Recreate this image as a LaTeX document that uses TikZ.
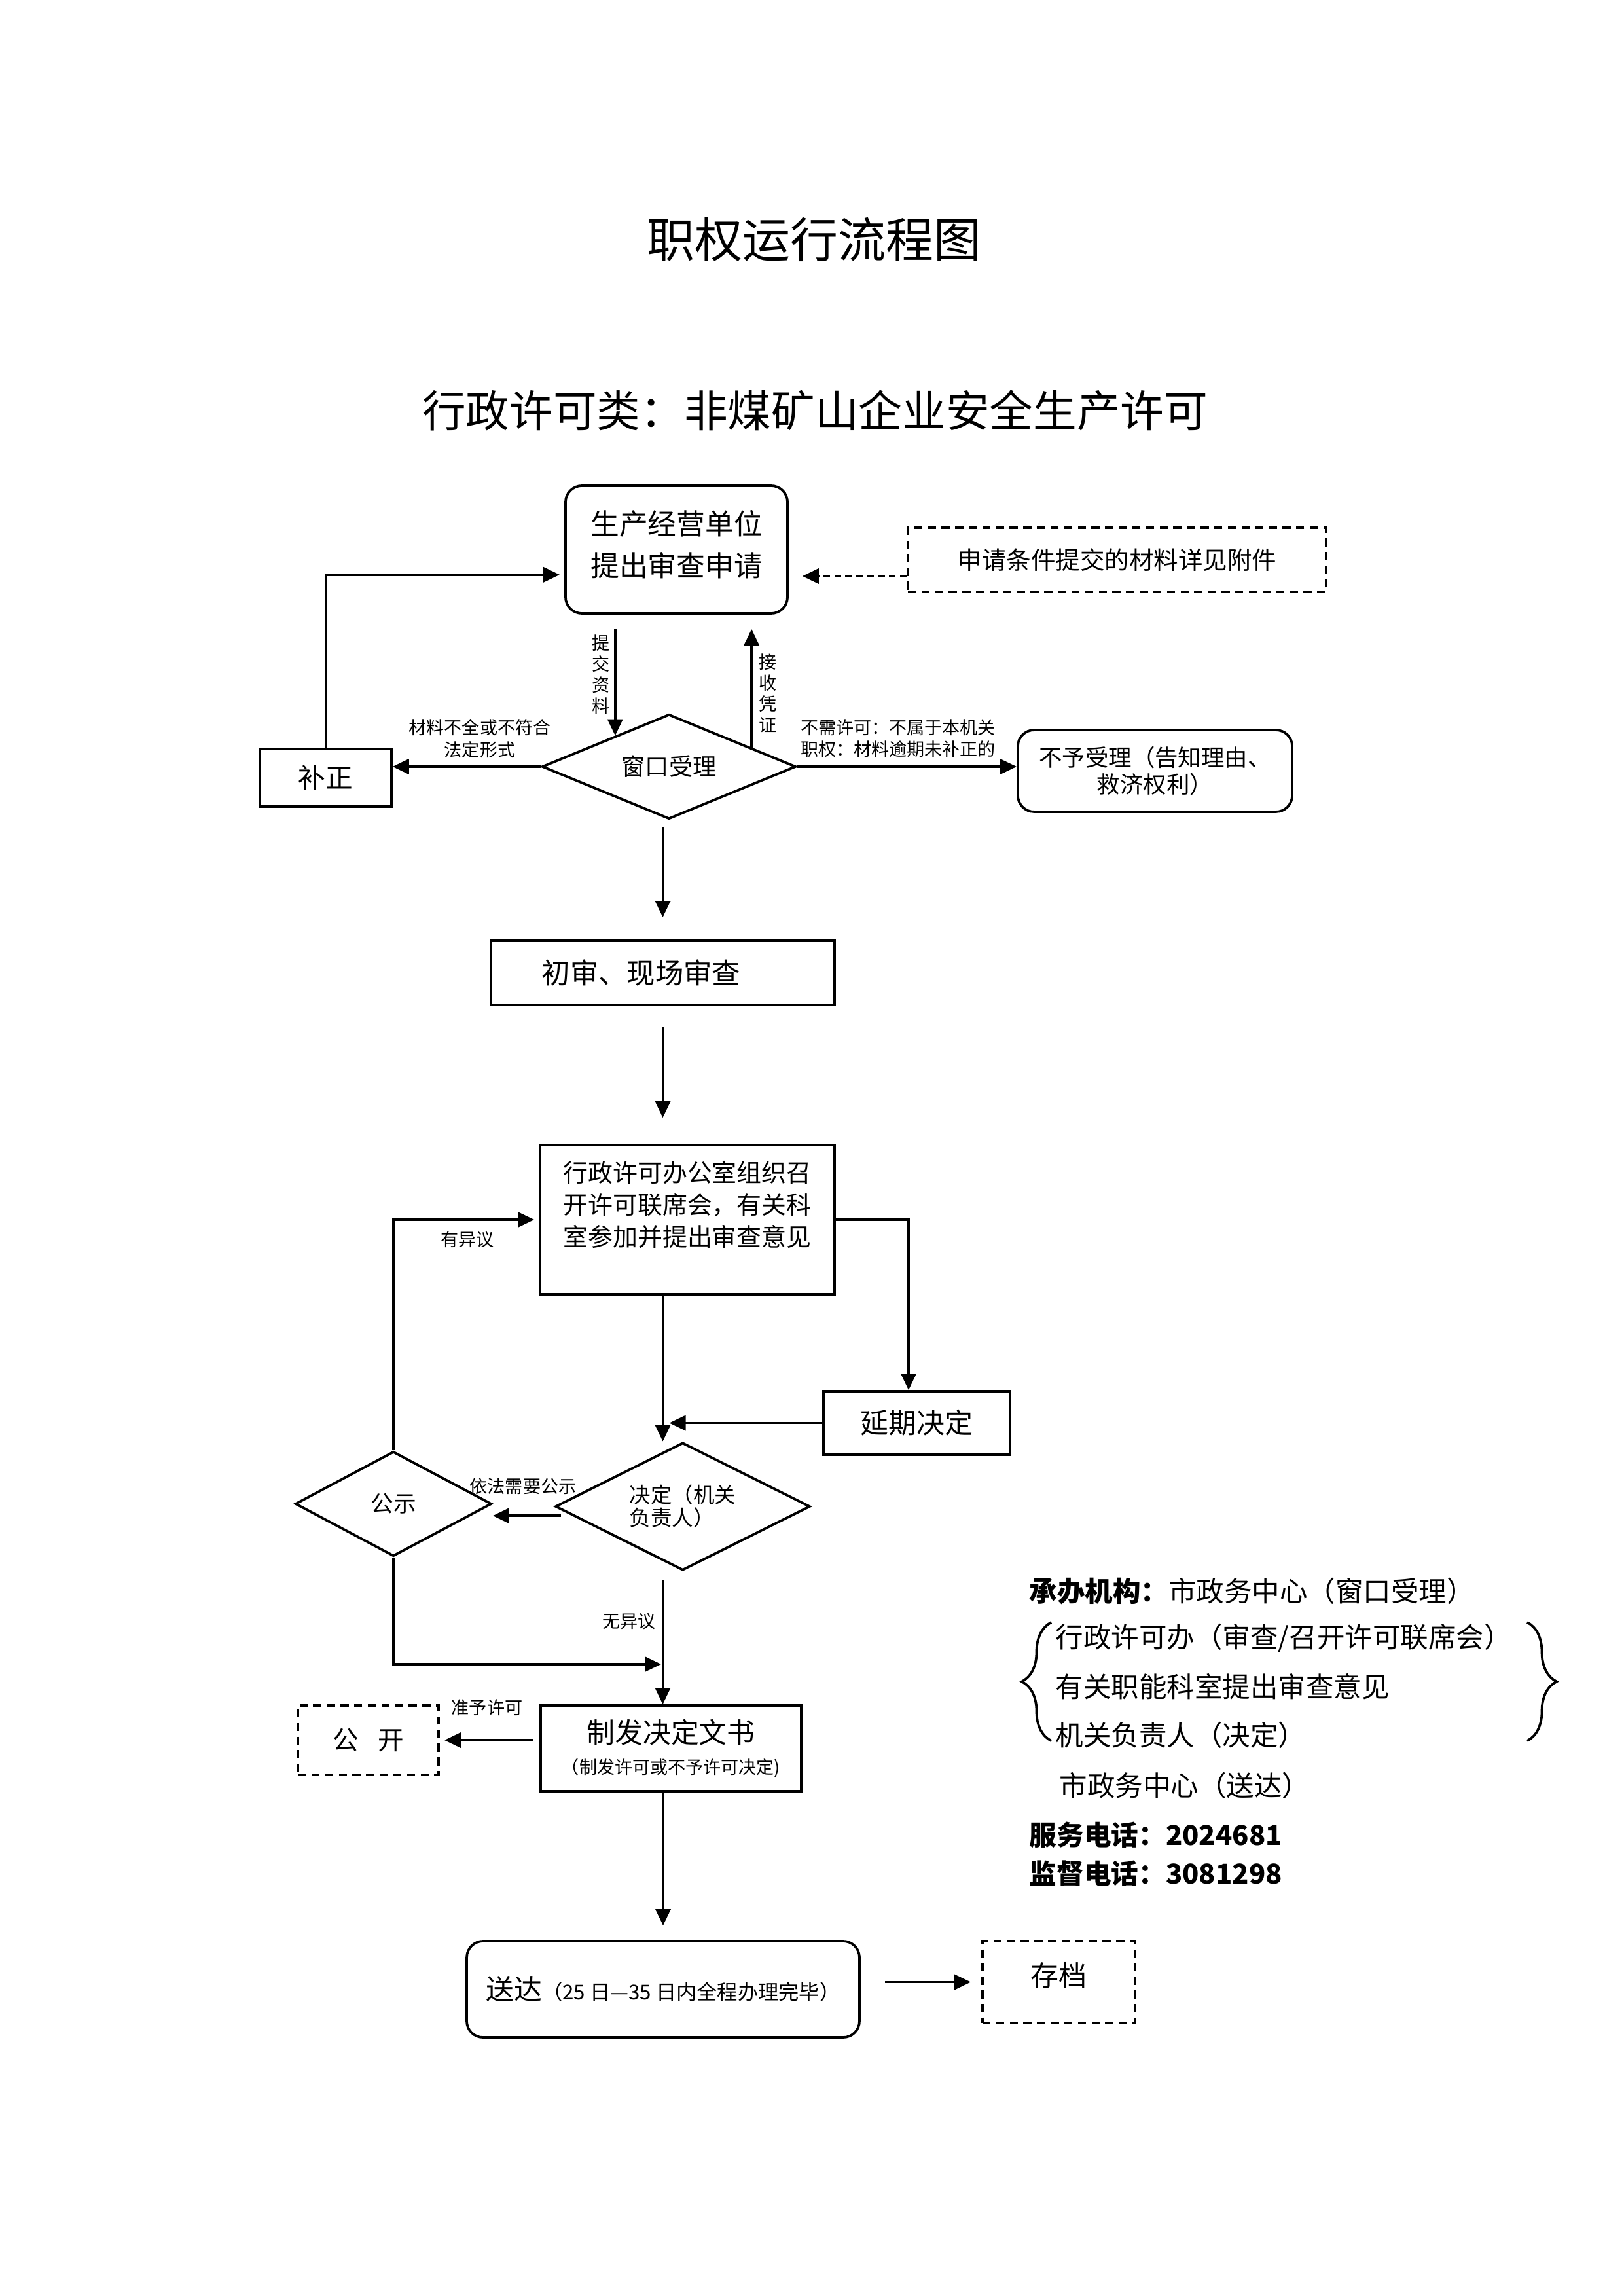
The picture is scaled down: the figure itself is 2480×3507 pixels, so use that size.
\documentclass[tikz,border=0pt]{standalone}
\usepackage{fontspec}
\setmainfont{Noto Sans CJK SC}
\usetikzlibrary{arrows.meta,shapes.geometric,decorations.pathreplacing}
\newcommand{\fsz}[2]{\fontsize{#1}{#2}\selectfont}
\begin{document}
\begin{tikzpicture}[x=0.24pt,y=-0.24pt,
  box/.style={draw, line width=0.9pt, inner sep=0pt, align=center},
  rbox/.style={box, rounded corners=6pt},
  dbox/.style={box, dash pattern=on 3pt off 2pt},
  dia/.style={draw, diamond, line width=0.9pt, inner sep=0pt, align=center},
  arr/.style={line width=0.9pt, -{Triangle[length=6pt,width=5.5pt]}},
  ln/.style={line width=0.9pt},
  lab/.style={inner sep=0pt, align=center, font=\fsz{6.5}{8}},
  side/.style={inner sep=0pt, anchor=west, font=\fsz{10.2}{12}}]
\useasboundingbox (0,0) rectangle (2480,3507);
\fill[white] (0,0) rectangle (2480,3507);

% titles
\node[inner sep=0pt, font=\fsz{17.5}{20}] (T1) at (1244,366) {职权运行流程图};
\node[inner sep=0pt, font=\fsz{16}{19}] (T2) at (1245,627) {行政许可类：非煤矿山企业安全生产许可};

% nodes
\node[rbox, minimum width=81.4pt, minimum height=46.8pt, font=\fsz{10.5}{15.4}] (A) at (1033.5,839.5) {生产经营单位\\提出审查申请\\[-11pt]\mbox{}};
\node[dbox, minimum width=153.4pt, minimum height=23.5pt, font=\fsz{9}{11}] (D) at (1706.5,855) {申请条件提交的材料详见附件};
\node[dia, minimum width=93.1pt, minimum height=38.4pt, shape aspect=2.4, font=\fsz{8.7}{10}] (W) at (1022,1171) {窗口受理};
\node[box, minimum width=48.2pt, minimum height=21.1pt, font=\fsz{10}{12}] (B) at (497.5,1188) {补正};
\node[rbox, minimum width=100.6pt, minimum height=30pt, font=\fsz{8.5}{9.8}] (C) at (1764.5,1177.5) {不予受理（告知理由、\\救济权利）};
\node[box, minimum width=126pt, minimum height=23.5pt, font=\fsz{10.4}{12}] (E) at (1012.5,1486) {初审、现场审查\hspace{15.8pt}};
\node[box, minimum width=108pt, minimum height=54.7pt, font=\fsz{9.1}{11.8}] (F) at (1050,1863) {行政许可办公室组织召\\开许可联席会，有关科\\室参加并提出审查意见\\\mbox{}};
\node[box, minimum width=68.4pt, minimum height=23.3pt, font=\fsz{10.3}{12}] (H) at (1400.5,2173.5) {延期决定};
\node[dia, minimum width=93.4pt, minimum height=46.8pt, shape aspect=2, align=left, font=\fsz{7.8}{8.4}] (G) at (1043,2301) {决定（机关\\负责人）};
\node[dia, minimum width=72pt, minimum height=38.4pt, shape aspect=1.9, font=\fsz{8.3}{10}] (I) at (601,2297) {公示};
\node[box, minimum width=95.5pt, minimum height=31.4pt, font=\fsz{10.3}{11.3}] (J) at (1025,2670.5) {制发决定文书\\{\fsz{6.5}{8}（制发许可或不予许可决定)}};
\node[dbox, minimum width=51.6pt, minimum height=25.4pt, font=\fsz{9.5}{11}] (K) at (562.5,2658) {公\hspace{7pt}开};
\node[rbox, minimum width=144pt, minimum height=35.3pt, font=\fsz{10.3}{12}] (L) at (1013,3038.5) {送达{\fsz{7.5}{9}（25 日—35 日内全程办理完毕）}};
\node[dbox, minimum width=56pt, minimum height=30pt, font=\fsz{10.3}{12}] (M) at (1617.5,3027.5) {\raisebox{6pt}{存档}};

% connectors
\draw[arr, shorten <=5.3pt] (W.150.6 |- A.south) -- (W.150.6);
\draw[arr, shorten >=5.3pt] (W.13.1) -- (W.13.1 |- A.south);
\draw[arr] (W.west) -- (W.west -| B.east);
\draw[arr, shorten >=1.7pt] (B.north) |- ([yshift=-9.2pt]A.west);
\draw[arr] (W.east) -- (W.east -| C.west);
\draw[arr, dash pattern=on 2.5pt off 1.5pt, shorten >=5pt] ([yshift=-6pt]D.west) -- ([yshift=-6pt]D.west -| A.east);
\draw[arr, shorten <=2.4pt, shorten >=8.2pt] (E.north |- W.south) -- (E.north);
\draw[arr, shorten <=7.7pt, shorten >=9.6pt] (E.south) -- (E.south |- F.north);
\draw[arr] (E.south |- F.south) -- (E.south |- G.north);
\draw[arr] (F.east) -| ([xshift=-3pt]H.north);
\draw[arr, shorten >=2.4pt] (H.west) -- (H.west -| E.south);
\draw[arr] ([xshift=2.4pt,yshift=-3.4pt]G.west) -- ([yshift=-3.4pt]G.west -| I.east);
\draw[arr, shorten >=1.7pt] (I.north) |- (F.west);
\coordinate (merge) at (1010,2542);
\draw[arr] (I.south) |- (merge);
\draw[arr, shorten <=3.2pt] (E.south |- G.south) -- (E.south |- J.north);
\draw[arr, shorten <=2.2pt, shorten >=1.7pt] (J.west |- K.east) -- (K.east);
\draw[arr, shorten >=5.3pt] (L.north |- J.south) -- (L.north);
\draw[arr, shorten <=9pt, shorten >=3.8pt] (M.west -| L.east) -- (M.west);

% connector labels
\node[lab, font=\fsz{6.5}{7.7}] (l1) at (918,1030) {提\\交\\资\\料};
\node[lab, font=\fsz{6.5}{7.7}] (l2) at (1173,1059) {接\\收\\凭\\证};
\node[lab] (l3) at (733,1128) {材料不全或不符合\\法定形式};
\node[lab] (l4) at (1372,1128) {不需许可：不属于本机关\\职权：材料逾期未补正的};
\node[lab] (l5) at (714,1893) {有异议};
\node[lab] (l6) at (799,2270) {依法需要公示};
\node[lab] (l7) at (961,2477) {无异议};
\node[lab] (l8) at (744,2608) {准予许可};

% side block
\node[side] (s1) at (1572,2430) {{\bfseries 承办机构：}市政务中心（窗口受理）};
\node[side] (s2) at (1612,2502) {行政许可办（审查/召开许可联席会）};
\node[side] (s3) at (1612,2576) {有关职能科室提出审查意见};
\node[side] (s4) at (1612,2650) {机关负责人（决定）};
\node[side] (s5) at (1618,2727) {市政务中心（送达）};
\node[side, font=\fsz{10}{12}\bfseries] (s6) at (1572,2803) {服务电话：2024681};
\node[side, font=\fsz{10}{12}\bfseries] (s7) at (1572,2862) {监督电话：3081298};
\draw[ln, decorate, decoration={brace, amplitude=10.8pt}] (1606,2659) -- (1606,2478);
\draw[ln, decorate, decoration={brace, amplitude=10.8pt}] (2333,2478) -- (2333,2659);
\end{tikzpicture}
\end{document}
